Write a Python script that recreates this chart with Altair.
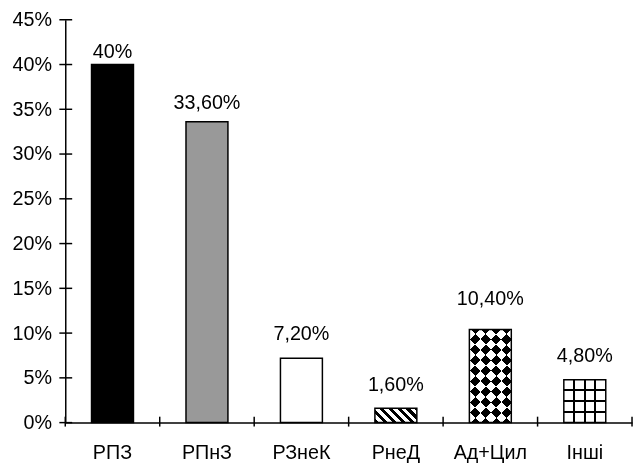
import math
import altair as alt
import pandas as pd

# ---- data ----
cats = ["РПЗ", "РПнЗ", "РЗнеК", "РнеД", "Ад+Цил", "Інші"]
vals = [40, 33.6, 7.2, 1.6, 10.4, 4.8]
labels = ["40%", "33,60%", "7,20%", "1,60%", "10,40%", "4,80%"]
yticks = [0, 5, 10, 15, 20, 25, 30, 35, 40, 45]

# ---- style ----
fills = ["#000000", "#999999", "#ffffff", "#ffffff", "#ffffff", "#ffffff"]
label_dy = [-7, -13, -18, -18, -25, -18]   # vertical nudge of each value label (px)
FONT = "Liberation Sans"
FS = 20
W, H = 574, 408
YMAX = 45
BAND = 0.444
SW = 1.5
CLEAR = "rgba(255,255,255,0)"

df = pd.DataFrame({"cat": cats, "val": vals, "label": labels})
bar_w = W / len(cats) * BAND


def bar_h(cat):
    return vals[cats.index(cat)] / YMAX * H


def stripes(w, h, normal, period, duty, c_on, c_off):
    nx, ny = normal
    nn = math.hypot(nx, ny)
    nx, ny = nx / nn, ny / nn
    corners = [(0, 0), (w, 0), (0, h), (w, h)]
    d = [cx * nx + cy * ny for cx, cy in corners]
    i0 = d.index(min(d))
    L = max(d) - min(d)
    g0, g1 = w * nx / L, h * ny / L
    gg = g0 * g0 + g1 * g1
    v0, v1 = g0 / gg, g1 / gg
    u0 = (corners[i0][0] / w, corners[i0][1] / h)
    stops = []
    k = 0
    while True:
        s0 = k * period / L
        if s0 >= 1:
            break
        s1 = min((k + duty) * period / L, 1)
        s2 = min((k + 1) * period / L, 1)
        stops += [
            {"offset": s0, "color": c_on},
            {"offset": s1, "color": c_on},
            {"offset": s1, "color": c_off},
            {"offset": s2, "color": c_off},
        ]
        k += 1
    return {
        "gradient": "linear",
        "x1": u0[0], "y1": u0[1],
        "x2": u0[0] + v0, "y2": u0[1] + v1,
        "stops": stops,
    }


def lines(n, frac_w, vertical):
    stops = []
    for i in range(1, n):
        c = i / n
        stops += [
            {"offset": c - frac_w / 2, "color": CLEAR},
            {"offset": c - frac_w / 2, "color": "black"},
            {"offset": c + frac_w / 2, "color": "black"},
            {"offset": c + frac_w / 2, "color": CLEAR},
        ]
    stops = [{"offset": 0, "color": CLEAR}] + stops + [{"offset": 1, "color": CLEAR}]
    if vertical:
        return {"gradient": "linear", "x1": 0, "y1": 0, "x2": 1, "y2": 0, "stops": stops}
    return {"gradient": "linear", "x1": 0, "y1": 0, "x2": 0, "y2": 1, "stops": stops}


xenc = alt.X(
    "cat:N", sort=cats,
    scale=alt.Scale(domain=cats, paddingInner=0, paddingOuter=0),
    axis=alt.Axis(title=None, labelAngle=0, ticks=False, tickSize=0,
                  labelPadding=20, grid=False),
)
yenc = alt.Y(
    "val:Q",
    scale=alt.Scale(domain=[0, YMAX], nice=False, zero=True),
    axis=alt.Axis(title=None, values=yticks, labelExpr="datum.value + '%'",
                  ticks=False, tickSize=0, labelPadding=14, grid=False),
)

bw = alt.RelativeBandSize(BAND)

base = alt.Chart(df).mark_bar(width=bw, strokeWidth=0).encode(
    x=xenc, y=yenc,
    fill=alt.Fill("cat:N", scale=alt.Scale(domain=cats, range=fills), legend=None),
)


def overlay(cat, grad, **kw):
    return alt.Chart(df).transform_filter(alt.datum.cat == cat).mark_bar(
        width=bw, fill=grad, strokeWidth=0, **kw
    ).encode(x="cat:N", y="val:Q")


hatch = overlay("РнеД", stripes(bar_w, bar_h("РнеД"), (1, -1), 6.4, 0.5, "black", "white"))
dia1 = overlay("Ад+Цил", stripes(bar_w, bar_h("Ад+Цил"), (1, 1), 15, 0.5, "black", "white"))
dia2 = overlay("Ад+Цил", stripes(bar_w, bar_h("Ад+Цил"), (1, -1), 15, 0.5, "white", CLEAR),
               blend="difference")
gridv = overlay("Інші", lines(4, 2 / bar_w, True))
gridh = overlay("Інші", lines(4, 2 / bar_h("Інші"), False))

outline = alt.Chart(df).mark_bar(
    width=bw, fill="white", fillOpacity=0, stroke="black", strokeWidth=SW
).encode(x="cat:N", y="val:Q")

texts = [
    alt.Chart(df).transform_filter(alt.datum.cat == c).mark_text(
        dy=d, baseline="alphabetic", align="center", font=FONT, fontSize=FS, color="black"
    ).encode(x="cat:N", y="val:Q", text="label:N")
    for c, d in zip(cats, label_dy)
]

ytick_rules = alt.Chart(pd.DataFrame({"val": yticks})).mark_rule(
    color="black", strokeWidth=SW
).encode(y="val:Q", x=alt.value(-6), x2=alt.value(7))

xtick_rules = alt.Chart(pd.DataFrame({"cat": cats})).mark_rule(
    color="black", strokeWidth=SW
).encode(x=alt.X("cat:N", bandPosition=0), y=alt.value(H - 6), y2=alt.value(H + 4))

xtick_end = alt.Chart(pd.DataFrame({"cat": [cats[-1]]})).mark_rule(
    color="black", strokeWidth=SW
).encode(x=alt.value(W), y=alt.value(H - 6), y2=alt.value(H + 4))

chart = alt.layer(
    base, hatch, dia1, dia2, gridv, gridh, outline, *texts,
    ytick_rules, xtick_rules, xtick_end
).properties(
    width=W, height=H,
    padding={"left": 58, "top": 9, "right": 2, "bottom": 39},
    autosize=alt.AutoSizeParams(type="none"),
).configure_axis(
    labelFont=FONT, labelFontSize=FS, labelColor="black",
    domainColor="black", domainWidth=SW,
).configure_view(strokeWidth=0)

chart.save("out.html", embed_options={"renderer": "svg", "actions": False})
